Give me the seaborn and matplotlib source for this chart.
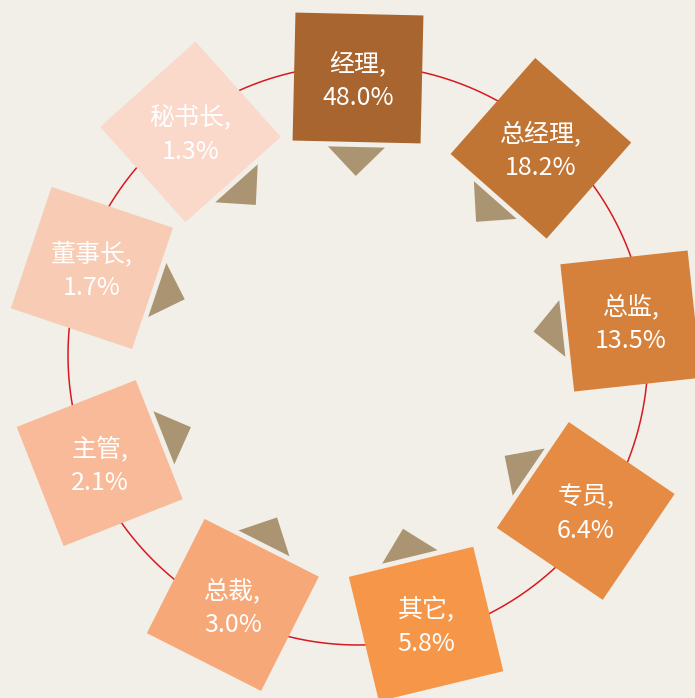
import numpy as np
import pandas as pd
import matplotlib
matplotlib.use("Agg")
import matplotlib.pyplot as plt
from matplotlib.patches import Polygon
import seaborn as sns

# ---- data ----
labels = ["经理", "总经理", "总监", "专员", "其它", "总裁", "主管", "董事长", "秘书长"]
values = [48.0, 18.2, 13.5, 6.4, 5.8, 3.0, 2.1, 1.7, 1.3]
colors = ["#A8652F", "#C17535", "#D6813B", "#E68B43", "#F59648",
          "#F6A878", "#F8BA98", "#F8CBB4", "#FAD9CB"]

# ---- layout (pixel space, y down) ----
W, H = 695, 698
ring_center = (358.0, 355.0)
ring_radius = 290.0
slot_angles = [90.0, 48.5, 7.1, -34.4, -75.8, -116.6, -157.3, -198.1, -233.1]
slot_radii = [277, 276, 275, 276, 277.5, 279.5, 280, 280, 279]
tilts = [1.3, 41.4, -6.2, 34.2, -13.6, 26.8, -21.5, 18.6, 48.2]
side = 128.0
gap = 5.0
tri_base = 57.0
tri_height = 29.0
bg = "#F2EFE9"
tri_color = "#AB9471"
ring_color = "#D71920"

sns.set_theme(style="white")
plt.rcParams["font.family"] = ["Noto Sans CJK SC", "DejaVu Sans"]

fig = plt.figure(figsize=(W / 100, H / 100), dpi=100)
fig.patch.set_facecolor(bg)
ax = fig.add_axes([0, 0, 1, 1])
ax.set_facecolor(bg)
ax.set_xlim(0, W)
ax.set_ylim(H, 0)
ax.set_aspect("equal", adjustable="datalim")
ax.axis("off")

# ring
t = np.linspace(0, 2 * np.pi, 721)
ring = pd.DataFrame({"x": ring_center[0] + ring_radius * np.cos(t),
                     "y": ring_center[1] + ring_radius * np.sin(t)})
sns.lineplot(data=ring, x="x", y="y", sort=False, estimator=None,
             color=ring_color, linewidth=1.1, ax=ax, zorder=1)

h = side / 2
for lab, val, col, a, r, tilt in zip(labels, values, colors, slot_angles, slot_radii, tilts):
    ar = np.deg2rad(a)
    c = np.array([ring_center[0] + r * np.cos(ar), ring_center[1] - r * np.sin(ar)])
    tr = np.deg2rad(tilt)
    u = np.array([np.cos(tr), np.sin(tr)])
    v = np.array([-np.sin(tr), np.cos(tr)])
    corners = [c - h * u - h * v, c + h * u - h * v, c + h * u + h * v, c - h * u + h * v]
    ax.add_patch(Polygon(corners, closed=True, facecolor=col, edgecolor="none", zorder=3))

    # triangle on the side facing the ring center
    to_c = np.array(ring_center) - c
    normals = [u, v, -u, -v]
    n = max(normals, key=lambda q: np.dot(q, to_c))
    p = np.array([-n[1], n[0]])
    m = c + n * (h + gap)
    tri = [m + p * tri_base / 2, m - p * tri_base / 2, m + n * tri_height]
    ax.add_patch(Polygon(tri, closed=True, facecolor=tri_color, edgecolor="none", zorder=2))

    ax.text(c[0], c[1] + 3, f"{lab},\n{val:.1f}%", ha="center", va="center",
            multialignment="center", fontsize=18, color="white",
            linespacing=1.4, zorder=4)

fig.savefig("out.png", dpi=100, facecolor=bg)
